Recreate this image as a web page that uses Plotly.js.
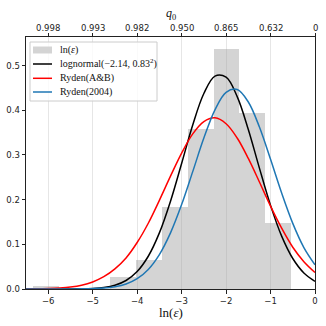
<!DOCTYPE html>
<html>
<head>
<meta charset="utf-8">
<script src="https://cdn.plot.ly/plotly-3.0.1.min.js"></script>
<style>
  body { margin: 0; padding: 0; background: #fff; }
  #plot_hist { width: 326px; height: 326px; }
</style>
</head>
<body>
<div id="plot_hist"></div>
<script>
// histogram of ln(eps), density
var binLeft = [-6.34, -5.76, -5.18, -4.60, -4.02, -3.44, -2.86, -2.28, -1.70, -1.12];
var binWidth = 0.58;
var binDensity = [0.0075, 0, 0, 0.026, 0.066, 0.183, 0.357, 0.537, 0.394, 0.147];

// curves
var lnEps = [-6.5, -6.25, -6, -5.75, -5.5, -5.25, -5, -4.75, -4.5, -4.25, -4, -3.75, -3.5,
             -3.25, -3, -2.75, -2.5, -2.25, -2, -1.75, -1.5, -1.25, -1, -0.75, -0.5, -0.25, 0];
var lognormal = [0, 0, 0, 0, 0.0001, 0.0004, 0.0013, 0.0034, 0.0084, 0.019, 0.039, 0.0733, 0.1256,
                 0.1966, 0.281, 0.367, 0.4375, 0.4765, 0.474, 0.4305, 0.357, 0.2705, 0.1872, 0.1183, 0.0683, 0.036, 0.0173];
var rydenAB = [0.0002, 0.0005, 0.0012, 0.0024, 0.0045, 0.0085, 0.0158, 0.0275, 0.045, 0.0695, 0.104, 0.1472, 0.1985,
               0.2525, 0.3041, 0.3472, 0.3748, 0.383, 0.3699, 0.338, 0.2922, 0.2395, 0.1855, 0.136, 0.0935, 0.0612, 0.037];
var ryden2004 = [0, 0, 0, 0, 0.0001, 0.0003, 0.0008, 0.0021, 0.005, 0.0111, 0.023, 0.0438, 0.0771,
                 0.1256, 0.1889, 0.2627, 0.3377, 0.401, 0.4402, 0.4465, 0.4185, 0.3625, 0.2902, 0.2147, 0.1468, 0.0927, 0.0541];

// top axis: q0 labels at the ln(eps) ticks
var q0Vals = [-6, -5, -4, -3, -2, -1, 0];
var q0Text = ["0.998", "0.993", "0.982", "0.950", "0.865", "0.632", "0"];

var legendNames = ['ln(<i>ε</i>)', 'lognormal(−2.14, 0.83<sup>2</sup>)', 'Ryden(A&amp;B)', 'Ryden(2004)'];
var legendColors = ['#d4d4d4', 'black', '#ff0000', '#1f77b4'];

var serif = "Liberation Serif, Times New Roman, serif";
var sans = "DejaVu Sans, sans-serif";

var hist = {
  x: binLeft,
  y: binDensity,
  width: binWidth,
  offset: 0,
  type: 'bar',
  name: legendNames[0],
  showlegend: false,
  marker: { color: 'rgba(160,160,160,0.45)', line: { width: 0 } }
};

var traceLog = {
  x: lnEps, y: lognormal, type: 'scatter', mode: 'lines',
  name: legendNames[1], showlegend: false,
  line: { color: legendColors[1], width: 1.5, shape: 'spline' }
};
var traceAB = {
  x: lnEps, y: rydenAB, type: 'scatter', mode: 'lines',
  name: legendNames[2], showlegend: false,
  line: { color: legendColors[2], width: 1.5, shape: 'spline' }
};
var trace04 = {
  x: lnEps, y: ryden2004, type: 'scatter', mode: 'lines',
  name: legendNames[3], showlegend: false,
  line: { color: legendColors[3], width: 1.5, shape: 'spline' }
};
// keeps the top axis alive
var traceTop = {
  x: q0Vals, y: q0Vals.map(function () { return null; }), xaxis: 'x2',
  type: 'scatter', mode: 'lines', showlegend: false, hoverinfo: 'skip'
};

var data = [hist, traceLog, traceAB, trace04, traceTop];

// plot box in px, for the hand made legend
var plotL = 26, plotT = 37, plotW = 289, plotH = 252;
function px(x) { return (x - plotL) / plotW; }
function py(y) { return (plotT + plotH - y) / plotH; }

var shapes = [];
var annotations = [];

// legend frame
shapes.push({
  type: 'rect', xref: 'paper', yref: 'paper',
  x0: px(30), x1: px(157), y0: py(101), y1: py(42),
  line: { color: '#cccccc', width: 1 }, fillcolor: 'rgba(255,255,255,0.8)', layer: 'above'
});
var rowY = [50, 64, 78.3, 92];
for (var i = 0; i < legendNames.length; i++) {
  if (i == 0) {
    shapes.push({
      type: 'rect', xref: 'paper', yref: 'paper',
      x0: px(33), x1: px(52), y0: py(rowY[i] + 3.5), y1: py(rowY[i] - 3.5),
      line: { width: 0 }, fillcolor: legendColors[i], layer: 'above'
    });
  } else {
    shapes.push({
      type: 'line', xref: 'paper', yref: 'paper',
      x0: px(33), x1: px(52), y0: py(rowY[i]), y1: py(rowY[i]),
      line: { color: legendColors[i], width: 1.5 }, layer: 'above'
    });
  }
  annotations.push({
    xref: 'paper', yref: 'paper', x: px(58), y: py(rowY[i]),
    xanchor: 'left', yanchor: 'middle', showarrow: false,
    text: legendNames[i],
    font: { family: serif, size: 10, color: '#111' }
  });
}

// top tick labels and titles
for (var k = 0; k < q0Vals.length; k++) {
  annotations.push({
    xref: 'x', yref: 'paper', x: q0Vals[k], y: 1,
    yanchor: 'middle', yshift: 9, showarrow: false,
    text: q0Text[k], font: { family: sans, size: 8.5, color: '#222' }
  });
}
annotations.push({
  xref: 'paper', yref: 'paper', x: 0.5, y: 1, yanchor: 'middle', yshift: 23,
  showarrow: false, text: '<i>q</i><sub>0</sub>',
  font: { family: serif, size: 12, color: '#111' }
});
annotations.push({
  xref: 'paper', yref: 'paper', x: 0.5, y: 0, yanchor: 'middle', yshift: -23,
  showarrow: false, text: 'ln(<i>ε</i>)',
  font: { family: serif, size: 13, color: '#111' }
});

var layout = {
  width: 326,
  height: 326,
  margin: { l: plotL, r: 326 - plotL - plotW, t: plotT, b: 326 - plotT - plotH },
  paper_bgcolor: 'white',
  plot_bgcolor: 'white',
  showlegend: false,
  bargap: 0,
  font: { family: sans, size: 8.5, color: '#222' },
  xaxis: {
    range: [-6.5, 0],
    tickvals: q0Vals,
    ticks: 'outside', ticklen: 3.5, tickcolor: '#222',
    showline: true, linecolor: '#222', linewidth: 1, mirror: true,
    showgrid: true, gridcolor: '#e6e6e6', gridwidth: 1,
    zeroline: false
  },
  xaxis2: {
    range: [-6.5, 0],
    overlaying: 'x', side: 'top', anchor: 'y',
    tickvals: q0Vals, showticklabels: false,
    ticks: 'outside', ticklen: 3.5, tickcolor: '#222',
    showgrid: false, zeroline: false
  },
  yaxis: {
    range: [0, 0.564],
    tickvals: [0, 0.1, 0.2, 0.3, 0.4, 0.5],
    tickformat: '.1f',
    ticks: 'outside', ticklen: 3.5, tickcolor: '#222',
    showline: true, linecolor: '#222', linewidth: 1, mirror: true,
    showgrid: false, zeroline: false
  },
  shapes: shapes,
  annotations: annotations
};

Plotly.newPlot('plot_hist', data, layout, { staticPlot: true });
</script>
</body>
</html>
